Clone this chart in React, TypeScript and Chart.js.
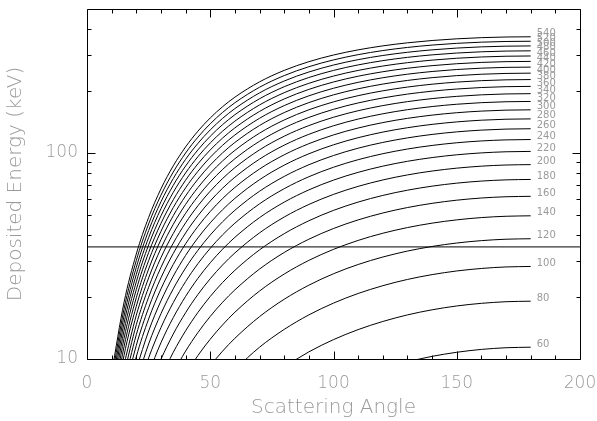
import React, { useEffect, useRef } from 'react';
import { Chart, registerables } from 'chart.js';

Chart.register(...registerables);

// Scattering angles (degrees) at which the curves were read
const ANGLES = [10, 15, 20, 25, 30, 35, 40, 45, 50, 55, 60, 70, 80, 90, 100, 110, 120, 130, 140, 150, 160, 170, 180];

// Incident energies (keV) labelling each curve
const ENERGIES = [60, 80, 100, 120, 140, 160, 180, 200, 220, 240, 260, 280, 300, 320, 340, 360, 380, 400, 420, 440, 460, 480, 500, 520, 540];

// Deposited energy (keV) per curve, aligned with ANGLES
const E60 = [null, null, null, null, null, null, null, null, null, null, null, null, null, null, null, null, null, 9.70, 10.30, 10.78, 11.13, 11.34, 11.41];
const E80 = [null, null, null, null, null, null, null, null, null, null, null, null, 9.16, 10.83, 12.42, 13.89, 15.21, 16.37, 17.33, 18.09, 18.63, 18.97, 19.08];
const E100 = [null, null, null, null, null, null, null, null, null, null, 8.91, 11.41, 13.92, 16.37, 18.68, 20.80, 22.69, 24.33, 25.68, 26.75, 27.51, 27.98, 28.13];
const E120 = [null, null, null, null, null, null, null, null, 9.29, 10.92, 12.61, 16.06, 19.50, 22.82, 25.93, 28.76, 31.26, 33.41, 35.18, 36.56, 37.55, 38.15, 38.35];
const E140 = [null, null, null, null, null, null, 8.43, 10.40, 12.48, 14.64, 16.87, 21.38, 25.84, 30.11, 34.06, 37.64, 40.78, 43.45, 45.65, 47.36, 48.58, 49.31, 49.56];
const E160 = [null, null, null, null, null, 8.57, 10.92, 13.44, 16.10, 18.85, 21.66, 27.33, 32.89, 38.15, 43.00, 47.34, 51.13, 54.35, 56.97, 59.01, 60.46, 61.32, 61.61];
const E180 = [null, null, null, null, 8.11, 10.78, 13.70, 16.83, 20.12, 23.51, 26.96, 33.87, 40.58, 46.89, 52.65, 57.78, 62.23, 65.98, 69.03, 71.39, 73.06, 74.06, 74.40];
const E200 = [null, null, null, 7.07, 9.96, 13.22, 16.78, 20.57, 24.53, 28.61, 32.73, 40.96, 48.88, 56.26, 62.95, 68.87, 73.98, 78.27, 81.74, 84.42, 86.31, 87.44, 87.82];
const E220 = [null, null, null, 8.53, 12.00, 15.89, 20.13, 24.64, 29.32, 34.12, 38.97, 48.56, 57.73, 66.21, 73.85, 80.56, 86.33, 91.14, 95.02, 98.01, 100.11, 101.37, 101.79];
const E240 = [null, null, 6.61, 10.12, 14.21, 18.79, 23.76, 29.02, 34.48, 40.05, 45.64, 56.66, 67.10, 76.70, 85.28, 92.79, 99.20, 104.53, 108.81, 112.10, 114.41, 115.79, 116.25];
const E260 = [null, null, 7.74, 11.83, 16.59, 21.91, 27.66, 33.72, 39.99, 46.35, 52.73, 65.21, 76.96, 87.68, 97.21, 105.50, 112.54, 118.38, 123.06, 126.63, 129.14, 130.64, 131.14];
const E280 = [null, null, 8.96, 13.67, 19.15, 25.24, 31.82, 38.72, 45.83, 53.03, 60.22, 74.20, 87.27, 99.12, 109.59, 118.65, 126.32, 132.64, 137.70, 141.56, 144.27, 145.87, 146.41];
const E300 = [null, 5.88, 10.26, 15.64, 21.88, 28.79, 36.23, 44.02, 52.01, 60.07, 68.08, 83.60, 98.00, 110.97, 122.38, 132.20, 140.48, 147.29, 152.71, 156.84, 159.73, 161.45, 162.02];
const E320 = [null, 6.69, 11.65, 17.73, 24.77, 32.55, 40.89, 49.60, 58.50, 67.44, 76.30, 93.38, 109.13, 123.22, 135.56, 146.13, 155.00, 162.27, 168.05, 172.44, 175.51, 177.33, 177.93];
const E340 = [null, 7.54, 13.12, 19.95, 27.83, 36.52, 45.80, 55.45, 65.29, 75.15, 84.87, 103.53, 120.62, 135.84, 149.09, 160.38, 169.83, 177.56, 183.68, 188.32, 191.57, 193.49, 194.12];
const E360 = [null, 8.44, 14.67, 22.29, 31.05, 40.68, 50.94, 61.58, 72.38, 83.17, 93.78, 114.02, 132.46, 148.79, 162.94, 174.95, 184.97, 193.13, 199.59, 204.47, 207.88, 209.89, 210.56];
const E380 = [null, 9.39, 16.31, 24.75, 34.43, 45.05, 56.31, 67.96, 79.76, 91.49, 103.00, 124.85, 144.63, 162.07, 177.09, 189.81, 200.37, 208.96, 215.73, 220.85, 224.42, 226.53, 227.22];
const E400 = [4.70, 10.39, 18.03, 27.33, 37.97, 49.60, 61.92, 74.60, 87.41, 100.10, 112.52, 135.98, 157.11, 175.63, 191.52, 204.93, 216.02, 225.02, 232.10, 237.44, 241.17, 243.36, 244.09];
const E420 = [5.18, 11.44, 19.83, 30.03, 41.66, 54.35, 67.74, 81.49, 95.32, 109.00, 122.33, 147.42, 169.88, 189.47, 206.22, 220.29, 231.90, 241.29, 248.68, 254.24, 258.10, 260.39, 261.14];
const E440 = [5.68, 12.54, 21.72, 32.85, 45.51, 59.28, 73.78, 88.62, 103.50, 118.17, 132.42, 159.13, 182.92, 203.58, 221.16, 235.88, 247.99, 257.77, 265.45, 271.21, 275.22, 277.58, 278.36];
const E460 = [6.21, 13.69, 23.69, 35.78, 49.51, 64.40, 80.02, 95.98, 111.93, 127.60, 142.78, 171.11, 196.22, 217.92, 236.32, 251.67, 264.28, 274.43, 282.38, 288.34, 292.49, 294.93, 295.74];
const E480 = [6.75, 14.89, 25.73, 38.83, 53.65, 69.70, 86.48, 103.57, 120.60, 137.28, 153.40, 183.35, 209.76, 232.49, 251.69, 267.67, 280.75, 291.26, 299.47, 305.63, 309.91, 312.43, 313.26];
const E500 = [7.32, 16.13, 27.86, 41.99, 57.95, 75.17, 93.14, 111.37, 129.50, 147.20, 164.26, 195.83, 223.54, 247.28, 267.27, 283.84, 297.38, 308.24, 316.72, 323.06, 327.46, 330.05, 330.91];
const E520 = [7.92, 17.43, 30.07, 45.26, 62.39, 80.82, 99.99, 119.40, 138.63, 157.36, 175.36, 208.54, 237.53, 262.27, 283.02, 300.19, 314.18, 325.37, 334.10, 340.62, 345.14, 347.80, 348.68];
const E540 = [8.53, 18.77, 32.35, 48.65, 66.97, 86.64, 107.04, 127.63, 147.98, 167.75, 186.68, 221.48, 251.73, 277.45, 298.96, 316.69, 331.11, 342.63, 351.60, 358.30, 362.94, 365.66, 366.56];

const SERIES = [E60, E80, E100, E120, E140, E160, E180, E200, E220, E240, E260, E280, E300, E320, E340, E360, E380, E400, E420, E440, E460, E480, E500, E520, E540];

// Horizontal threshold line (keV) and its x extent
const THRESHOLD = 35;
const THRESHOLD_X = [0, 200];

// Axis ticks
const X_MAJOR = [0, 50, 100, 150, 200];
const X_MINOR = [10, 20, 30, 40, 60, 70, 80, 90, 110, 120, 130, 140, 160, 170, 180, 190];
const Y_MAJOR = [10, 100];
const Y_MINOR = [20, 30, 40, 50, 60, 70, 80, 90, 200, 300, 400];

const TEXT_COLOR = '#9a9a9a';
const FONT_FAMILY = '"DejaVu Sans", sans-serif';

const framePlugin = {
  id: 'frame',
  afterDraw(chart: any) {
    const { ctx, chartArea: a, scales } = chart;
    const xs = scales.x;
    const ys = scales.y;
    const L = Math.round(a.left) + 0.5;
    const R = Math.round(a.right) + 0.5;
    const T = Math.round(a.top) + 0.5;
    const B = Math.round(a.bottom) + 0.5;
    ctx.save();
    ctx.strokeStyle = '#000';
    ctx.lineWidth = 1;
    ctx.beginPath();
    ctx.rect(L, T, R - L, B - T);
    const xTick = (v: number, len: number) => {
      const p = Math.round(xs.getPixelForValue(v)) + 0.5;
      ctx.moveTo(p, B); ctx.lineTo(p, B - len);
      ctx.moveTo(p, T); ctx.lineTo(p, T + len);
    };
    const yTick = (v: number, len: number) => {
      const p = Math.round(ys.getPixelForValue(v)) + 0.5;
      ctx.moveTo(L, p); ctx.lineTo(L + len, p);
      ctx.moveTo(R, p); ctx.lineTo(R - len, p);
    };
    X_MAJOR.forEach((v) => xTick(v, 8));
    X_MINOR.forEach((v) => xTick(v, 4));
    Y_MAJOR.forEach((v) => yTick(v, 8));
    Y_MINOR.forEach((v) => yTick(v, 4));
    ctx.stroke();

    // curve labels at the right end of each curve
    ctx.font = `10px ${FONT_FAMILY}`;
    ctx.fillStyle = TEXT_COLOR;
    ctx.textAlign = 'left';
    ctx.textBaseline = 'middle';
    ENERGIES.forEach((e, i) => {
      const meta = chart.getDatasetMeta(i);
      const pts = meta.data;
      const last = pts[pts.length - 1];
      if (last) ctx.fillText(String(e), last.x + 6, last.y - 3);
    });
    ctx.restore();
  },
};

export default function App() {
  const ref = useRef<HTMLCanvasElement | null>(null);

  useEffect(() => {
    document.body.style.margin = '0';
    const canvas = ref.current;
    if (!canvas) return;

    const curveSets = SERIES.map((s, i) => ({
      label: String(ENERGIES[i]),
      data: ANGLES.map((a, j) => ({ x: a, y: s[j] })).filter((p) => p.y !== null),
      borderColor: '#000',
      borderWidth: 1,
      pointRadius: 0,
      fill: false,
      cubicInterpolationMode: 'monotone' as const,
    }));

    const thresholdSet = {
      label: 'threshold',
      data: THRESHOLD_X.map((x) => ({ x, y: THRESHOLD })),
      borderColor: '#000',
      borderWidth: 1,
      pointRadius: 0,
      fill: false,
    };

    const chart = new Chart(canvas, {
      type: 'line',
      data: { datasets: [...curveSets, thresholdSet] as any },
      options: {
        animation: false,
        responsive: false,
        devicePixelRatio: 1,
        events: [],
        layout: { padding: { top: 9, right: 17, left: 0, bottom: 0 } },
        plugins: { legend: { display: false }, tooltip: { enabled: false } },
        scales: {
          x: {
            type: 'linear',
            min: 0,
            max: 200,
            afterBuildTicks: (axis: any) => {
              axis.ticks = X_MAJOR.map((v) => ({ value: v }));
            },
            afterFit: (axis: any) => {
              axis.height = 62;
              axis.paddingLeft = 0;
              axis.paddingRight = 0;
            },
            grid: { display: false, drawTicks: false },
            border: { display: false },
            ticks: {
              color: TEXT_COLOR,
              font: { family: FONT_FAMILY, size: 17, weight: 200 as any },
              padding: 14,
              maxRotation: 0,
              autoSkip: false,
              callback: (v: any) => String(v),
            },
            title: {
              display: true,
              text: 'Scattering Angle',
              color: TEXT_COLOR,
              font: { family: FONT_FAMILY, size: 20, weight: 200 as any },
              padding: { top: 0, bottom: 1 },
            },
          },
          y: {
            type: 'logarithmic',
            min: 10,
            max: 500,
            afterBuildTicks: (axis: any) => {
              axis.ticks = Y_MAJOR.map((v) => ({ value: v }));
            },
            afterFit: (axis: any) => {
              axis.width = 87;
              axis.paddingTop = 0;
              axis.paddingBottom = 0;
            },
            grid: { display: false, drawTicks: false },
            border: { display: false },
            ticks: {
              color: TEXT_COLOR,
              font: { family: FONT_FAMILY, size: 17, weight: 200 as any },
              padding: 9,
              autoSkip: false,
              callback: (v: any) => String(v),
            },
            title: {
              display: true,
              text: 'Deposited Energy (keV)',
              color: TEXT_COLOR,
              font: { family: FONT_FAMILY, size: 20, weight: 200 as any },
              padding: { top: 4, bottom: 0 },
            },
          },
        },
      },
      plugins: [framePlugin],
    });

    return () => chart.destroy();
  }, []);

  return (
    <div style={{ width: 597, height: 421 }}>
      <canvas ref={ref} width={597} height={421} style={{ display: 'block', width: 597, height: 421 }} />
    </div>
  );
}
